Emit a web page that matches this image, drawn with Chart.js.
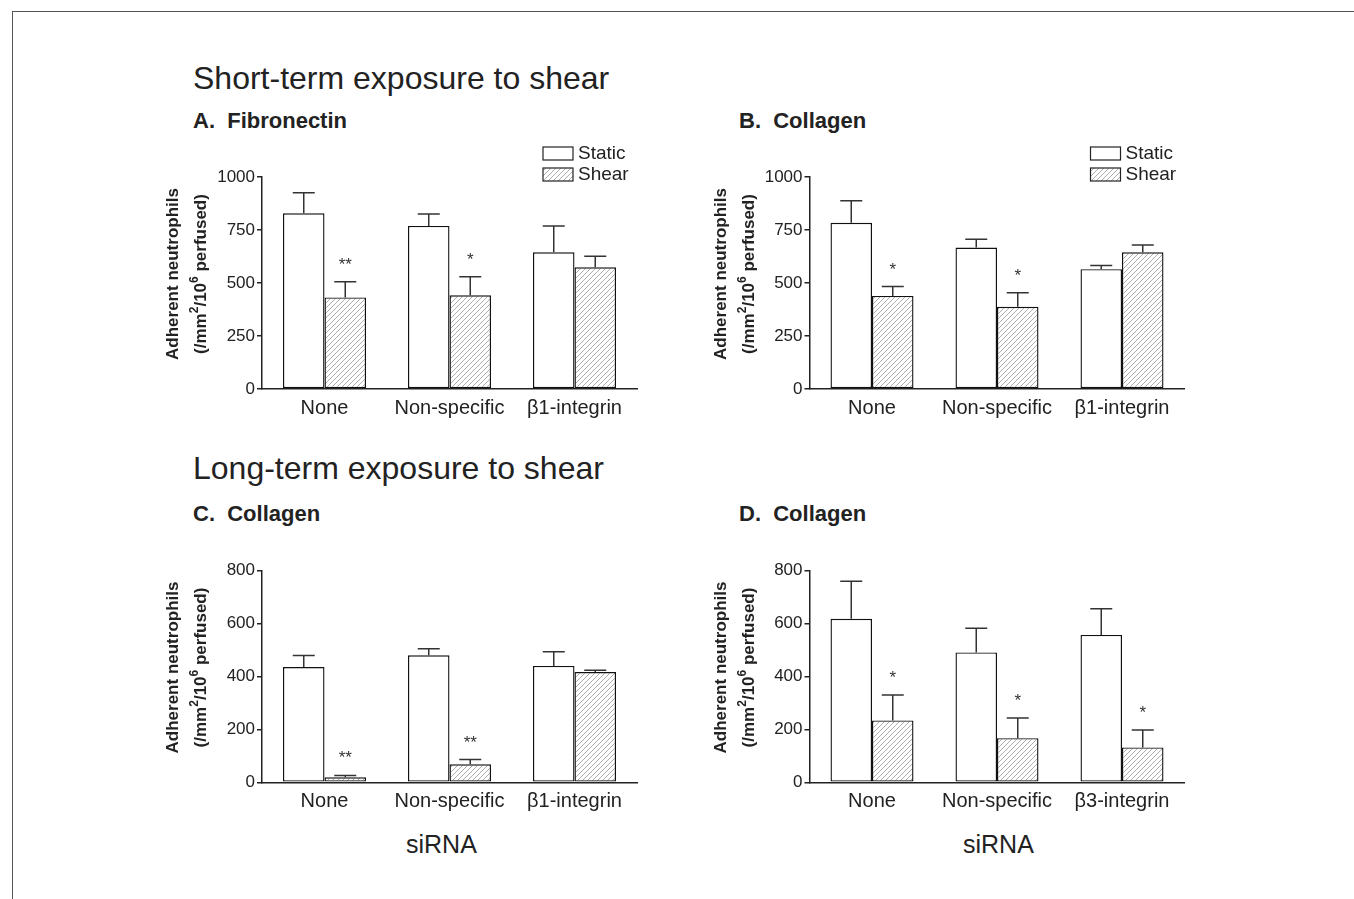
<!DOCTYPE html>
<html>
<head>
<meta charset="utf-8">
<script src="https://cdn.jsdelivr.net/npm/chart.js@4/dist/chart.umd.min.js"></script>
<style>
  html, body { margin: 0; padding: 0; background: #fff; }
  body { width: 1354px; height: 899px; position: relative; overflow: hidden;
         font-family: "Liberation Sans", Arial, sans-serif; color: #222; }
  .frame { position: absolute; left: 12px; top: 11px; width: 1400px; height: 950px;
           border-top: 1.5px solid #555; border-left: 1.5px solid #555; }
  .txt { position: absolute; white-space: pre; line-height: 1; }
  .big { font-size: 32px; }
  .head { font-size: 22px; font-weight: bold; }
  .sirna { font-size: 25px; }
  canvas { position: absolute; }
</style>
</head>
<body>
<div class="frame"></div>

<div class="txt big" style="left:193px; top:62px;">Short-term exposure to shear</div>
<div class="txt head" style="left:193px; top:110px;">A.  Fibronectin</div>
<div class="txt head" style="left:739px; top:110px;">B.  Collagen</div>
<div class="txt big" style="left:193px; top:452px;">Long-term exposure to shear</div>
<div class="txt head" style="left:193px; top:503px;">C.  Collagen</div>
<div class="txt head" style="left:739px; top:503px;">D.  Collagen</div>
<div class="txt sirna" style="left:406px; top:832px;">siRNA</div>
<div class="txt sirna" style="left:963px; top:832px;">siRNA</div>

<canvas id="chartA"></canvas>
<canvas id="chartB"></canvas>
<canvas id="chartC"></canvas>
<canvas id="chartD"></canvas>

<script>
// categories
var siRnaB1 = ['None', 'Non-specific', 'β1-integrin'];
var siRnaB3 = ['None', 'Non-specific', 'β3-integrin'];
var seriesNames = ['Static', 'Shear'];

// A. short-term, fibronectin (mean, SEM)
var fibStatic = [829, 769, 645];
var fibStaticSem = [97, 56, 124];
var fibShear = [432, 442, 574];
var fibShearSem = [74, 88, 52];
var fibStars = ['**', '*', ''];

// B. short-term, collagen
var colStatic = [784, 667, 565];
var colStaticSem = [104, 39, 17];
var colShear = [439, 388, 645];
var colShearSem = [44, 66, 34];
var colStars = ['*', '*', ''];

// C. long-term, collagen, beta1
var longB1Static = [436, 480, 440];
var longB1StaticSem = [43, 25, 54];
var longB1Shear = [19, 68, 417];
var longB1ShearSem = [7, 18, 7];
var longB1Stars = ['**', '**', ''];

// D. long-term, collagen, beta3
var longB3Static = [618, 491, 557];
var longB3StaticSem = [142, 91, 99];
var longB3Shear = [234, 167, 132];
var longB3ShearSem = [96, 76, 66];
var longB3Stars = ['*', '*', '*'];

var FONT = '"Liberation Sans", Arial, sans-serif';
var INK = '#222';

function makeHatch() {
  var c = document.createElement('canvas');
  c.width = 5; c.height = 5;
  var g = c.getContext('2d');
  g.fillStyle = '#fff';
  g.fillRect(0, 0, 5, 5);
  g.strokeStyle = '#999';
  g.lineWidth = 0.8;
  g.beginPath();
  g.moveTo(0, 5); g.lineTo(5, 0);
  g.moveTo(-1, 1); g.lineTo(1, -1);
  g.moveTo(4, 6); g.lineTo(6, 4);
  g.stroke();
  return g.createPattern(c, 'repeat');
}
var hatch = makeHatch();

// error bars, stars, legend and the y title
var panelDecor = {
  id: 'panelDecor',
  afterDatasetsDraw: function(chart, args, opts) {
    var ctx = chart.ctx;
    var y = chart.scales.y;
    ctx.save();
    ctx.strokeStyle = '#333';
    ctx.lineWidth = 1.5;
    opts.sems.forEach(function(sem, di) {
      var meta = chart.getDatasetMeta(di);
      meta.data.forEach(function(bar, i) {
        var val = chart.data.datasets[di].data[i];
        var top = y.getPixelForValue(val + sem[i]);
        ctx.beginPath();
        ctx.moveTo(bar.x, bar.y);
        ctx.lineTo(bar.x, top);
        ctx.moveTo(bar.x - 11, top);
        ctx.lineTo(bar.x + 11, top);
        ctx.stroke();
        if (di == 1 && opts.stars[i]) {
          ctx.fillStyle = '#333';
          ctx.font = '17px ' + FONT;
          ctx.textAlign = 'center';
          ctx.textBaseline = 'alphabetic';
          ctx.fillText(opts.stars[i], bar.x, top - 12);
        }
      });
    });
    ctx.restore();
  },
  afterDraw: function(chart, args, opts) {
    var ctx = chart.ctx;
    var area = chart.chartArea;
    ctx.save();
    ctx.fillStyle = INK;

    if (opts.legend) {
      var bx = area.right - 94;
      var fills = ['#fff', hatch];
      seriesNames.forEach(function(name, i) {
        var by = area.top - 30 + i * 21;
        ctx.fillStyle = fills[i];
        ctx.fillRect(bx, by, 30, 13);
        ctx.strokeStyle = '#222';
        ctx.lineWidth = 1.2;
        ctx.strokeRect(bx, by, 30, 13);
        ctx.fillStyle = INK;
        ctx.font = '19px ' + FONT;
        ctx.textAlign = 'left';
        ctx.textBaseline = 'middle';
        ctx.fillText(name, bx + 35, by + 7);
      });
    }

    // y axis title, two lines with superscripts
    var cy = (area.top + area.bottom) / 2 - 9;
    ctx.translate(area.left - 84, cy);
    ctx.rotate(-Math.PI / 2);
    ctx.textBaseline = 'alphabetic';
    ctx.textAlign = 'center';
    ctx.font = 'bold 17px ' + FONT;
    ctx.fillText('Adherent neutrophils', 0, 0);

    var parts = [['(/mm', 0], ['2', 1], ['/10', 0], ['6', 1], [' perfused)', 0]];
    var main = 'bold 17px ' + FONT, sup = 'bold 12px ' + FONT;
    var total = 0;
    parts.forEach(function(p) {
      ctx.font = p[1] ? sup : main;
      total += ctx.measureText(p[0]).width;
    });
    var x = -total / 2;
    ctx.textAlign = 'left';
    parts.forEach(function(p) {
      ctx.font = p[1] ? sup : main;
      ctx.fillText(p[0], x, p[1] ? 28 - 8 : 28);
      x += ctx.measureText(p[0]).width;
    });
    ctx.restore();
  }
};

function makePanel(id, area, labels, staticVals, shearVals, sems, stars, yMax, yStep, legend) {
  var canvas = document.getElementById(id);
  var padLeft = 125, padTop = 50, padRight = 12, padBottom = 45;
  var left = Math.round(area.l - padLeft);
  var top = Math.round(area.t - padTop);
  canvas.width = Math.round(area.r + padRight) - left;
  canvas.height = Math.round(area.b + padBottom) - top;
  canvas.style.left = left + 'px';
  canvas.style.top = top + 'px';

  return new Chart(canvas, {
    type: 'bar',
    data: {
      labels: labels,
      datasets: [
        {
          label: seriesNames[0],
          data: staticVals,
          backgroundColor: '#fff',
          borderColor: '#111',
          borderWidth: 1.4,
          borderSkipped: false
        },
        {
          label: seriesNames[1],
          data: shearVals,
          backgroundColor: hatch,
          borderColor: '#111',
          borderWidth: 1.4,
          borderSkipped: false
        }
      ]
    },
    options: {
      responsive: false,
      animation: false,
      devicePixelRatio: 1,
      layout: { padding: { top: area.t - top, right: left + canvas.width - area.r, left: 0, bottom: 0 } },
      datasets: { bar: { categoryPercentage: 0.664, barPercentage: 1 } },
      plugins: {
        legend: { display: false },
        tooltip: { enabled: false },
        panelDecor: { sems: sems, stars: stars, legend: legend }
      },
      scales: {
        x: {
          grid: { display: false, drawTicks: false },
          border: { display: true, color: INK, width: 1.5 },
          ticks: { color: INK, padding: 7, font: { family: FONT, size: 20 } },
          afterFit: function(s) { s.height = top + canvas.height - area.b; }
        },
        y: {
          min: 0,
          max: yMax,
          ticks: {
            stepSize: yStep,
            color: INK,
            padding: 2,
            font: { family: FONT, size: 17 },
            callback: function(v) { return String(v); }
          },
          grid: { display: true, drawOnChartArea: false, drawTicks: true, tickLength: 5, color: INK, lineWidth: 1.5 },
          border: { display: true, color: INK, width: 1.5 },
          afterFit: function(s) { s.width = area.l - left; }
        }
      }
    },
    plugins: [panelDecor]
  });
}

makePanel('chartA', { l: 262, r: 637, t: 177, b: 389 }, siRnaB1,
  fibStatic, fibShear, [fibStaticSem, fibShearSem], fibStars, 1000, 250, true);
makePanel('chartB', { l: 809.5, r: 1184.5, t: 177, b: 389 }, siRnaB1,
  colStatic, colShear, [colStaticSem, colShearSem], colStars, 1000, 250, true);
makePanel('chartC', { l: 262, r: 637, t: 570.7, b: 782.3 }, siRnaB1,
  longB1Static, longB1Shear, [longB1StaticSem, longB1ShearSem], longB1Stars, 800, 200, false);
makePanel('chartD', { l: 809.5, r: 1184.5, t: 570.7, b: 782.3 }, siRnaB3,
  longB3Static, longB3Shear, [longB3StaticSem, longB3ShearSem], longB3Stars, 800, 200, false);
</script>
</body>
</html>
